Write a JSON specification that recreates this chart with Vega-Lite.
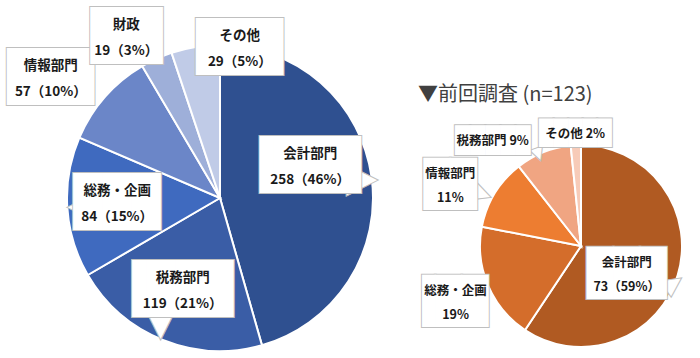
{
  "$schema": "https://vega.github.io/schema/vega-lite/v6.json",
  "padding": 0,
  "spacing": 0,
  "bounds": "flush",
  "background": "white",
  "config": {"view": {"stroke": null}},
  "resolve": {"scale": {"color": "independent", "theta": "independent"}},
  "hconcat": [
    {
      "width": 440,
      "height": 396,
      "data": {"values": [
        {"i": 1, "cat": "会計部門", "value": 258, "label": "会計部門\n258（46%）"},
        {"i": 2, "cat": "税務部門", "value": 119, "label": "税務部門\n119（21%）"},
        {"i": 3, "cat": "総務・企画", "value": 84, "label": "総務・企画\n84（15%）"},
        {"i": 4, "cat": "情報部門", "value": 57, "label": "情報部門\n57（10%）"},
        {"i": 5, "cat": "財政", "value": 19, "label": "財政\n19（3%）"},
        {"i": 6, "cat": "その他", "value": 29, "label": "その他\n29（5%）"}
      ]},
      "encoding": {
        "theta": {"field": "value", "type": "quantitative", "stack": true},
        "order": {"field": "i", "type": "quantitative"}
      },
      "layer": [
        {"mark": {"type": "arc", "outerRadius": 153, "stroke": "white", "strokeWidth": 2},
         "encoding": {"color": {"field": "cat", "type": "nominal", "legend": null,
           "scale": {"domain": ["会計部門","税務部門","総務・企画","情報部門","財政","その他"],
                     "range": ["#2F5090","#3A5DA6","#3F6ABF","#6B86C8","#9EAFD9","#C0CBE7"]}}}},

        {"mark": {"type": "text", "radius": 91, "dx": 52, "dy": -7, "font": "DejaVu Sans", "align": "center", "baseline": "middle", "fill": "white", "stroke": "#BFBFBF", "strokeWidth": 1},
         "encoding": {"text": {"condition": {"test": "datum.cat === '会計部門'", "value": "▶"}, "value": ""},
                      "size": {"condition": {"test": "datum.cat === '会計部門'", "value": 42}, "value": 0}}},
        {"mark": {"type": "text", "radius": 100, "dx": -22, "dy": 35, "font": "DejaVu Sans", "align": "center", "baseline": "middle", "fill": "white", "stroke": "#BFBFBF", "strokeWidth": 1},
         "encoding": {"text": {"condition": {"test": "datum.cat === '税務部門'", "value": "▼"}, "value": ""},
                      "size": {"condition": {"test": "datum.cat === '税務部門'", "value": 34}, "value": 0}}},
        {"mark": {"type": "text", "radius": 103, "dx": -45, "dy": 3, "font": "DejaVu Sans", "align": "center", "baseline": "middle", "fill": "white", "stroke": "#BFBFBF", "strokeWidth": 1},
         "encoding": {"text": {"condition": {"test": "datum.cat === '総務・企画'", "value": "◀"}, "value": ""},
                      "size": {"condition": {"test": "datum.cat === '総務・企画'", "value": 14}, "value": 0}}},

        {"mark": {"type": "text", "radius": 91, "dx": -7, "dy": -18, "font": "DejaVu Sans Mono", "baseline": "middle", "fill": "white", "stroke": "#BFBFBF", "strokeWidth": 2},
         "encoding": {"text": {"condition": {"test": "datum.cat === '会計部門'", "value": "▐███"}, "value": ""},
                      "size": {"condition": {"test": "datum.cat === '会計部門'", "value": 48}, "value": 0}}},
        {"mark": {"type": "text", "radius": 91, "dx": -7, "dy": -18, "font": "DejaVu Sans Mono", "baseline": "middle", "fill": "white"},
         "encoding": {"text": {"condition": {"test": "datum.cat === '会計部門'", "value": "▐███"}, "value": ""},
                      "size": {"condition": {"test": "datum.cat === '会計部門'", "value": 48}, "value": 0}}},
        {"mark": {"type": "text", "radius": 91, "dy": -31, "font": "Noto Sans CJK JP", "fontWeight": "bold", "lineBreak": "\n", "lineHeight": 26, "baseline": "middle", "fill": "#1a1a1a"},
         "encoding": {"text": {"condition": {"test": "datum.cat === '会計部門'", "field": "label", "type": "nominal"}, "value": ""},
                      "size": {"condition": {"test": "datum.cat === '会計部門'", "value": 13.5}, "value": 0}}},

        {"mark": {"type": "text", "radius": 100, "dx": -7, "font": "DejaVu Sans Mono", "baseline": "middle", "fill": "white", "stroke": "#BFBFBF", "strokeWidth": 2},
         "encoding": {"text": {"condition": {"test": "datum.cat === '税務部門'", "value": "▐███"}, "value": ""},
                      "size": {"condition": {"test": "datum.cat === '税務部門'", "value": 48}, "value": 0}}},
        {"mark": {"type": "text", "radius": 100, "dx": -7, "font": "DejaVu Sans Mono", "baseline": "middle", "fill": "white"},
         "encoding": {"text": {"condition": {"test": "datum.cat === '税務部門'", "value": "▐███"}, "value": ""},
                      "size": {"condition": {"test": "datum.cat === '税務部門'", "value": 48}, "value": 0}}},
        {"mark": {"type": "text", "radius": 100, "dy": -13, "font": "Noto Sans CJK JP", "fontWeight": "bold", "lineBreak": "\n", "lineHeight": 26, "baseline": "middle", "fill": "#1a1a1a"},
         "encoding": {"text": {"condition": {"test": "datum.cat === '税務部門'", "field": "label", "type": "nominal"}, "value": ""},
                      "size": {"condition": {"test": "datum.cat === '税務部門'", "value": 13.5}, "value": 0}}},

        {"mark": {"type": "text", "radius": 103, "font": "DejaVu Sans Mono", "baseline": "middle", "fill": "white", "stroke": "#BFBFBF", "strokeWidth": 2},
         "encoding": {"text": {"condition": {"test": "datum.cat === '総務・企画'", "value": "███"}, "value": ""},
                      "size": {"condition": {"test": "datum.cat === '総務・企画'", "value": 48}, "value": 0}}},
        {"mark": {"type": "text", "radius": 103, "font": "DejaVu Sans Mono", "baseline": "middle", "fill": "white"},
         "encoding": {"text": {"condition": {"test": "datum.cat === '総務・企画'", "value": "███"}, "value": ""},
                      "size": {"condition": {"test": "datum.cat === '総務・企画'", "value": 48}, "value": 0}}},
        {"mark": {"type": "text", "radius": 103, "dy": -13, "font": "Noto Sans CJK JP", "fontWeight": "bold", "lineBreak": "\n", "lineHeight": 26, "baseline": "middle", "fill": "#1a1a1a"},
         "encoding": {"text": {"condition": {"test": "datum.cat === '総務・企画'", "field": "label", "type": "nominal"}, "value": ""},
                      "size": {"condition": {"test": "datum.cat === '総務・企画'", "value": 13.5}, "value": 0}}},

        {"mark": {"type": "text", "radius": 200, "dx": -19, "dy": 13, "font": "DejaVu Sans Mono", "baseline": "middle", "fill": "white", "stroke": "#BFBFBF", "strokeWidth": 2},
         "encoding": {"text": {"condition": {"test": "datum.cat === '情報部門'", "value": "███"}, "value": ""},
                      "size": {"condition": {"test": "datum.cat === '情報部門'", "value": 48}, "value": 0}}},
        {"mark": {"type": "text", "radius": 200, "dx": -19, "dy": 13, "font": "DejaVu Sans Mono", "baseline": "middle", "fill": "white"},
         "encoding": {"text": {"condition": {"test": "datum.cat === '情報部門'", "value": "███"}, "value": ""},
                      "size": {"condition": {"test": "datum.cat === '情報部門'", "value": 48}, "value": 0}}},
        {"mark": {"type": "text", "radius": 200, "dx": -19, "dy": 0, "font": "Noto Sans CJK JP", "fontWeight": "bold", "lineBreak": "\n", "lineHeight": 26, "baseline": "middle", "fill": "#1a1a1a"},
         "encoding": {"text": {"condition": {"test": "datum.cat === '情報部門'", "field": "label", "type": "nominal"}, "value": ""},
                      "size": {"condition": {"test": "datum.cat === '情報部門'", "value": 13.5}, "value": 0}}},

        {"mark": {"type": "text", "radius": 190, "dx": -22, "dy": 13, "font": "DejaVu Sans Mono", "baseline": "middle", "fill": "white", "stroke": "#BFBFBF", "strokeWidth": 2},
         "encoding": {"text": {"condition": {"test": "datum.cat === '財政'", "value": "▐██"}, "value": ""},
                      "size": {"condition": {"test": "datum.cat === '財政'", "value": 48}, "value": 0}}},
        {"mark": {"type": "text", "radius": 190, "dx": -22, "dy": 13, "font": "DejaVu Sans Mono", "baseline": "middle", "fill": "white"},
         "encoding": {"text": {"condition": {"test": "datum.cat === '財政'", "value": "▐██"}, "value": ""},
                      "size": {"condition": {"test": "datum.cat === '財政'", "value": 48}, "value": 0}}},
        {"mark": {"type": "text", "radius": 190, "dx": -15, "dy": 0, "font": "Noto Sans CJK JP", "fontWeight": "bold", "lineBreak": "\n", "lineHeight": 26, "baseline": "middle", "fill": "#1a1a1a"},
         "encoding": {"text": {"condition": {"test": "datum.cat === '財政'", "field": "label", "type": "nominal"}, "value": ""},
                      "size": {"condition": {"test": "datum.cat === '財政'", "value": 13.5}, "value": 0}}},

        {"mark": {"type": "text", "radius": 157, "dx": 45, "dy": 6, "font": "DejaVu Sans Mono", "baseline": "middle", "fill": "white", "stroke": "#BFBFBF", "strokeWidth": 2},
         "encoding": {"text": {"condition": {"test": "datum.cat === 'その他'", "value": "███"}, "value": ""},
                      "size": {"condition": {"test": "datum.cat === 'その他'", "value": 48}, "value": 0}}},
        {"mark": {"type": "text", "radius": 157, "dx": 45, "dy": 6, "font": "DejaVu Sans Mono", "baseline": "middle", "fill": "white"},
         "encoding": {"text": {"condition": {"test": "datum.cat === 'その他'", "value": "███"}, "value": ""},
                      "size": {"condition": {"test": "datum.cat === 'その他'", "value": 48}, "value": 0}}},
        {"mark": {"type": "text", "radius": 157, "dx": 45, "dy": -7, "font": "Noto Sans CJK JP", "fontWeight": "bold", "lineBreak": "\n", "lineHeight": 26, "baseline": "middle", "fill": "#1a1a1a"},
         "encoding": {"text": {"condition": {"test": "datum.cat === 'その他'", "field": "label", "type": "nominal"}, "value": ""},
                      "size": {"condition": {"test": "datum.cat === 'その他'", "value": 13.5}, "value": 0}}}
      ]
    },
    {
      "width": 282,
      "height": 492,
      "title": {"text": "▼前回調査 (n=123)", "orient": "bottom", "anchor": "start", "frame": "group", "dx": -22, "dy": -411, "font": "Noto Sans CJK JP", "fontSize": 20, "fontWeight": "normal", "color": "#404040"},
      "data": {"values": [
        {"i": 1, "cat": "会計部門", "value": 73, "label": "会計部門\n73（59%）"},
        {"i": 2, "cat": "総務・企画", "value": 23, "label": "総務・企画\n19%"},
        {"i": 3, "cat": "情報部門", "value": 14, "label": "情報部門\n11%"},
        {"i": 4, "cat": "税務部門", "value": 11, "label": "税務部門 9%"},
        {"i": 5, "cat": "その他", "value": 2, "label": "その他 2%"}
      ]},
      "encoding": {
        "theta": {"field": "value", "type": "quantitative", "stack": true},
        "order": {"field": "i", "type": "quantitative"}
      },
      "layer": [
        {"mark": {"type": "arc", "outerRadius": 101, "stroke": "white", "strokeWidth": 2},
         "encoding": {"color": {"field": "cat", "type": "nominal", "legend": null,
           "scale": {"domain": ["会計部門","総務・企画","情報部門","税務部門","その他"],
                     "range": ["#B05A22","#D46D2B","#ED7D31","#F0A582","#F7CBB8"]}}}},

        {"mark": {"type": "text", "radius": 54, "dx": 21, "dy": 40, "angle": -35, "font": "DejaVu Sans", "align": "center", "baseline": "middle", "fill": "white", "stroke": "#BFBFBF", "strokeWidth": 1},
         "encoding": {"text": {"condition": {"test": "datum.cat === '会計部門'", "value": "▶"}, "value": ""},
                      "size": {"condition": {"test": "datum.cat === '会計部門'", "value": 26}, "value": 0}}},
        {"mark": {"type": "text", "radius": 145, "dx": 32, "dy": 13, "angle": 20, "font": "DejaVu Sans", "align": "center", "baseline": "middle", "fill": "white", "stroke": "#BFBFBF", "strokeWidth": 1},
         "encoding": {"text": {"condition": {"test": "datum.cat === '情報部門'", "value": "▶"}, "value": ""},
                      "size": {"condition": {"test": "datum.cat === '情報部門'", "value": 24}, "value": 0}}},
        {"mark": {"type": "text", "radius": 140, "dx": -4, "dy": 39, "angle": -20, "font": "DejaVu Sans", "align": "center", "baseline": "middle", "fill": "white", "stroke": "#BFBFBF", "strokeWidth": 1},
         "encoding": {"text": {"condition": {"test": "datum.cat === '税務部門'", "value": "▼"}, "value": ""},
                      "size": {"condition": {"test": "datum.cat === '税務部門'", "value": 18}, "value": 0}}},

        {"mark": {"type": "text", "radius": 54, "dx": -6, "dy": 13, "font": "DejaVu Sans Mono", "baseline": "middle", "fill": "white", "stroke": "#BFBFBF", "strokeWidth": 2},
         "encoding": {"text": {"condition": {"test": "datum.cat === '会計部門'", "value": "███"}, "value": ""},
                      "size": {"condition": {"test": "datum.cat === '会計部門'", "value": 44}, "value": 0}}},
        {"mark": {"type": "text", "radius": 54, "dx": -6, "dy": 13, "font": "DejaVu Sans Mono", "baseline": "middle", "fill": "white"},
         "encoding": {"text": {"condition": {"test": "datum.cat === '会計部門'", "value": "███"}, "value": ""},
                      "size": {"condition": {"test": "datum.cat === '会計部門'", "value": 44}, "value": 0}}},
        {"mark": {"type": "text", "radius": 54, "dx": -6, "dy": 1, "font": "Noto Sans CJK JP", "fontWeight": "bold", "lineBreak": "\n", "lineHeight": 24, "baseline": "middle", "fill": "#1a1a1a"},
         "encoding": {"text": {"condition": {"test": "datum.cat === '会計部門'", "field": "label", "type": "nominal"}, "value": ""},
                      "size": {"condition": {"test": "datum.cat === '会計部門'", "value": 12.5}, "value": 0}}},

        {"mark": {"type": "text", "radius": 136, "dx": -7, "dy": 5, "font": "DejaVu Sans Mono", "baseline": "middle", "fill": "white", "stroke": "#BFBFBF", "strokeWidth": 2},
         "encoding": {"text": {"condition": {"test": "datum.cat === '総務・企画'", "value": "▐██"}, "value": ""},
                      "size": {"condition": {"test": "datum.cat === '総務・企画'", "value": 44}, "value": 0}}},
        {"mark": {"type": "text", "radius": 136, "dx": -7, "dy": 5, "font": "DejaVu Sans Mono", "baseline": "middle", "fill": "white"},
         "encoding": {"text": {"condition": {"test": "datum.cat === '総務・企画'", "value": "▐██"}, "value": ""},
                      "size": {"condition": {"test": "datum.cat === '総務・企画'", "value": 44}, "value": 0}}},
        {"mark": {"type": "text", "radius": 136, "dy": -7, "font": "Noto Sans CJK JP", "fontWeight": "bold", "lineBreak": "\n", "lineHeight": 24, "baseline": "middle", "fill": "#1a1a1a"},
         "encoding": {"text": {"condition": {"test": "datum.cat === '総務・企画'", "field": "label", "type": "nominal"}, "value": ""},
                      "size": {"condition": {"test": "datum.cat === '総務・企画'", "value": 12.5}, "value": 0}}},

        {"mark": {"type": "text", "radius": 145, "dx": -7, "dy": 16, "font": "DejaVu Sans Mono", "baseline": "middle", "fill": "white", "stroke": "#BFBFBF", "strokeWidth": 2},
         "encoding": {"text": {"condition": {"test": "datum.cat === '情報部門'", "value": "██"}, "value": ""},
                      "size": {"condition": {"test": "datum.cat === '情報部門'", "value": 44}, "value": 0}}},
        {"mark": {"type": "text", "radius": 145, "dx": -7, "dy": 16, "font": "DejaVu Sans Mono", "baseline": "middle", "fill": "white"},
         "encoding": {"text": {"condition": {"test": "datum.cat === '情報部門'", "value": "██"}, "value": ""},
                      "size": {"condition": {"test": "datum.cat === '情報部門'", "value": 44}, "value": 0}}},
        {"mark": {"type": "text", "radius": 145, "dx": -7, "dy": 4, "font": "Noto Sans CJK JP", "fontWeight": "bold", "lineBreak": "\n", "lineHeight": 24, "baseline": "middle", "fill": "#1a1a1a"},
         "encoding": {"text": {"condition": {"test": "datum.cat === '情報部門'", "field": "label", "type": "nominal"}, "value": ""},
                      "size": {"condition": {"test": "datum.cat === '情報部門'", "value": 12.5}, "value": 0}}},

        {"mark": {"type": "text", "radius": 140, "dx": -36, "dy": 25, "font": "DejaVu Sans Mono", "baseline": "middle", "fill": "white", "stroke": "#BFBFBF", "strokeWidth": 2},
         "encoding": {"text": {"condition": {"test": "datum.cat === '税務部門'", "value": "█████"}, "value": ""},
                      "size": {"condition": {"test": "datum.cat === '税務部門'", "value": 25}, "value": 0}}},
        {"mark": {"type": "text", "radius": 140, "dx": -36, "dy": 25, "font": "DejaVu Sans Mono", "baseline": "middle", "fill": "white"},
         "encoding": {"text": {"condition": {"test": "datum.cat === '税務部門'", "value": "█████"}, "value": ""},
                      "size": {"condition": {"test": "datum.cat === '税務部門'", "value": 25}, "value": 0}}},
        {"mark": {"type": "text", "radius": 140, "dx": -36, "dy": 25, "font": "Noto Sans CJK JP", "fontWeight": "bold", "baseline": "middle", "fill": "#1a1a1a"},
         "encoding": {"text": {"condition": {"test": "datum.cat === '税務部門'", "field": "label", "type": "nominal"}, "value": ""},
                      "size": {"condition": {"test": "datum.cat === '税務部門'", "value": 12.5}, "value": 0}}},

        {"mark": {"type": "text", "radius": 113, "dy": 1, "font": "DejaVu Sans Mono", "baseline": "middle", "fill": "white", "stroke": "#BFBFBF", "strokeWidth": 2},
         "encoding": {"text": {"condition": {"test": "datum.cat === 'その他'", "value": "█████"}, "value": ""},
                      "size": {"condition": {"test": "datum.cat === 'その他'", "value": 24}, "value": 0}}},
        {"mark": {"type": "text", "radius": 113, "dy": 1, "font": "DejaVu Sans Mono", "baseline": "middle", "fill": "white"},
         "encoding": {"text": {"condition": {"test": "datum.cat === 'その他'", "value": "█████"}, "value": ""},
                      "size": {"condition": {"test": "datum.cat === 'その他'", "value": 24}, "value": 0}}},
        {"mark": {"type": "text", "radius": 113, "dy": 1, "font": "Noto Sans CJK JP", "fontWeight": "bold", "baseline": "middle", "fill": "#1a1a1a"},
         "encoding": {"text": {"condition": {"test": "datum.cat === 'その他'", "field": "label", "type": "nominal"}, "value": ""},
                      "size": {"condition": {"test": "datum.cat === 'その他'", "value": 12.5}, "value": 0}}}
      ]
    }
  ]
}
